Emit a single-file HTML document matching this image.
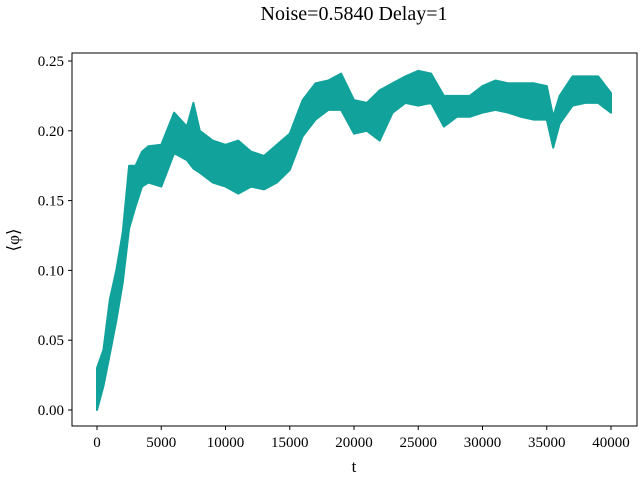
<!DOCTYPE html>
<html><head><meta charset="utf-8"><style>
body{margin:0;background:#fff}
svg text{font-family:"Liberation Serif","DejaVu Serif",serif;fill:#000}
</style></head><body>
<svg width="640" height="480" viewBox="0 0 640 480">
<text x="354" y="20" font-size="20" text-anchor="middle">Noise=0.5840 Delay=1</text>
<g id="plot"></g>
<rect x="72" y="53" width="565" height="373" fill="none" stroke="#000" stroke-width="1"/>
<g id="axes"></g>
<text x="354" y="472" font-size="17" text-anchor="middle">t</text>
<text transform="translate(19,240) rotate(-90)" font-size="17" text-anchor="middle">⟨φ⟩</text>
</svg>
<script>
const tVals=[0,500,1000,1500,2000,2500,3000,3500,4000,5000,6000,7000,7500,8000,9000,10000,11000,12000,13000,14000,15000,16000,17000,18000,19000,20000,21000,22000,23000,24000,25000,26000,27000,28000,29000,30000,31000,32000,33000,34000,35000,35500,36000,37000,38000,39000,40000];
const lowVals=[0.0,0.017,0.04,0.064,0.091,0.13,0.146,0.16,0.163,0.16,0.184,0.179,0.173,0.17,0.163,0.16,0.155,0.16,0.158,0.163,0.172,0.196,0.208,0.215,0.215,0.198,0.2,0.193,0.213,0.22,0.218,0.22,0.203,0.21,0.21,0.213,0.215,0.213,0.21,0.208,0.208,0.188,0.205,0.218,0.22,0.22,0.213];
const highVals=[0.03,0.043,0.079,0.10,0.127,0.175,0.175,0.185,0.189,0.19,0.213,0.203,0.22,0.2,0.193,0.19,0.193,0.185,0.182,0.19,0.198,0.222,0.234,0.236,0.241,0.222,0.22,0.229,0.234,0.239,0.243,0.241,0.225,0.225,0.225,0.232,0.236,0.234,0.234,0.234,0.232,0.21,0.225,0.239,0.239,0.239,0.227];
const xTicks=[0,5000,10000,15000,20000,25000,30000,35000,40000];
const yTicks=[0,0.05,0.10,0.15,0.20,0.25];
const yTickLabels=["0.00","0.05","0.10","0.15","0.20","0.25"];
const X=t=>97+t*(514/40000);
const Y=v=>410-v*1396;
const NS="http://www.w3.org/2000/svg";
const plot=document.getElementById('plot'),axes=document.getElementById('axes');
const col="#11a29b";
let pts=[];
for(let i=0;i<tVals.length;i++)pts.push(X(tVals[i]).toFixed(1)+","+Y(highVals[i]).toFixed(1));
for(let i=tVals.length-1;i>=0;i--)pts.push(X(tVals[i]).toFixed(1)+","+Y(lowVals[i]).toFixed(1));
const band=document.createElementNS(NS,'polygon');
band.setAttribute('points',pts.join(' '));
band.setAttribute('fill',col);band.setAttribute('stroke',col);band.setAttribute('stroke-width','2');band.setAttribute('stroke-linejoin','round');


plot.appendChild(band);
xTicks.forEach(t=>{
 const l=document.createElementNS(NS,'line');
 l.setAttribute('x1',X(t));l.setAttribute('x2',X(t));l.setAttribute('y1',426);l.setAttribute('y2',430);l.setAttribute('stroke','#000');
 
 
 axes.appendChild(l);
 const tx=document.createElementNS(NS,'text');
 tx.setAttribute('x',X(t));tx.setAttribute('y',447);tx.setAttribute('font-size','15');tx.setAttribute('text-anchor','middle');
 tx.textContent=String(t);
 
 
 axes.appendChild(tx);
});
yTicks.forEach((v,i)=>{
 const l=document.createElementNS(NS,'line');
 l.setAttribute('x1',68);l.setAttribute('x2',72);l.setAttribute('y1',Y(v));l.setAttribute('y2',Y(v));l.setAttribute('stroke','#000');
 
 
 axes.appendChild(l);
 const tx=document.createElementNS(NS,'text');
 tx.setAttribute('x',64);tx.setAttribute('y',Y(v)+5);tx.setAttribute('font-size','15');tx.setAttribute('text-anchor','end');
 tx.textContent=yTickLabels[i];
 
 
 axes.appendChild(tx);
});
</script>
</body></html>
